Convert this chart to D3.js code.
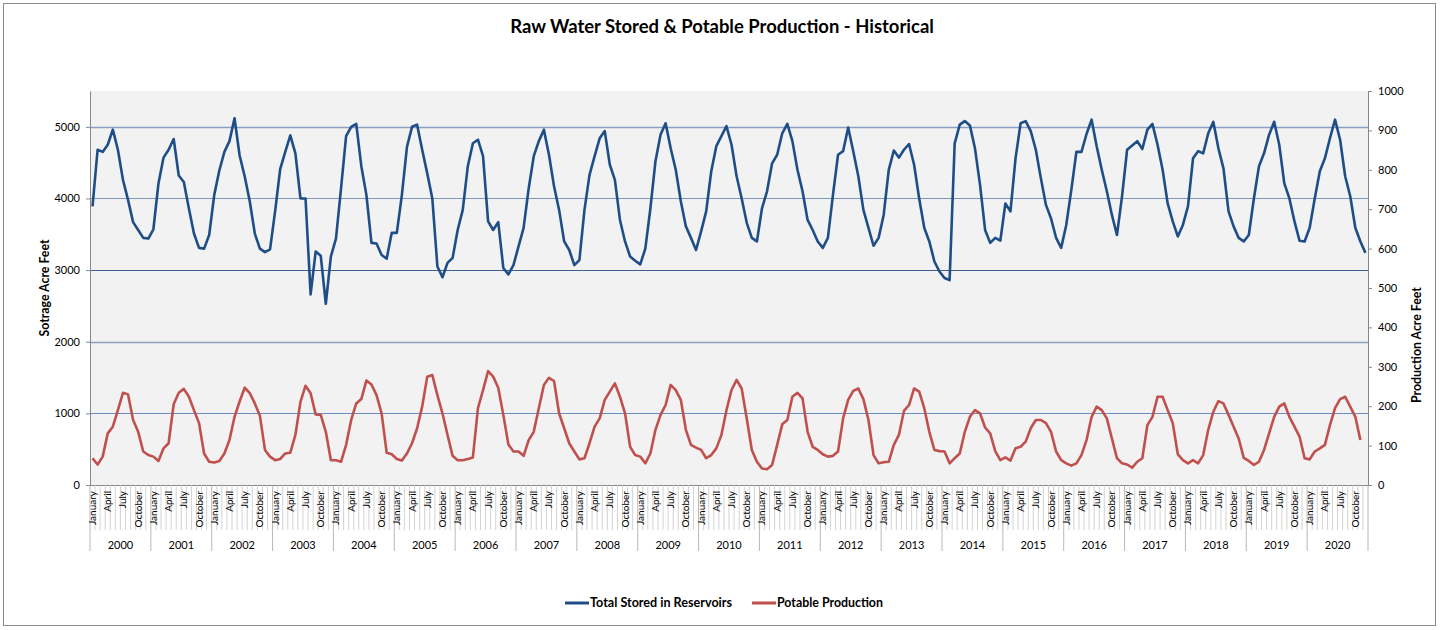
<!DOCTYPE html>
<html><head><meta charset="utf-8">
<script src="https://cdn.jsdelivr.net/npm/d3@7"></script>
<style>
body{margin:0;background:#fff;}
text{font-family:Lato,'Open Sans','Liberation Sans',Arial,sans-serif;fill:#000;}
</style>
</head><body>
<svg id="chart" width="1445" height="630"></svg>
<script>
// ---------------- DATA ----------------
const title = "Raw Water Stored & Potable Production - Historical";
const leftTitle = "Sotrage Acre Feet";
const rightTitle = "Production Acre Feet";
const seriesNames = ["Total Stored in Reservoirs", "Potable Production"];
const years = [2000,2001,2002,2003,2004,2005,2006,2007,2008,2009,2010,2011,2012,2013,2014,2015,2016,2017,2018,2019,2020];
const months = ["January","February","March","April","May","June","July","August","September","October","November","December"];
const shownMonths = ["January","April","July","October"];
const leftTicks = [0,1000,2000,3000,4000,5000];
const rightTicks = [0,100,200,300,400,500,600,700,800,900,1000];

// Total Stored in Reservoirs (acre feet), Jan 2000 .. Dec 2020
const storage = [
 3890,4680,4650,4750,4960,4680,4260,3980,3670,3560,3450,3440,
 3570,4210,4570,4680,4830,4320,4230,3860,3510,3310,3300,3490,
 4050,4390,4650,4800,5120,4600,4310,3960,3510,3300,3250,3290,
 3820,4410,4650,4880,4630,4000,4000,2660,3260,3200,2530,3190,
 3440,4140,4870,5000,5040,4450,4050,3380,3370,3210,3160,3520,
 3520,4050,4720,5000,5030,4680,4350,4000,3050,2900,3100,3170,
 3560,3840,4450,4770,4820,4590,3680,3560,3670,3030,2940,3070,
 3330,3590,4140,4590,4800,4960,4610,4170,3840,3400,3280,3070,
 3140,3840,4330,4590,4840,4940,4470,4260,3700,3400,3190,3130,
 3080,3300,3860,4520,4890,5050,4700,4400,3960,3610,3450,3280,
 3540,3820,4380,4730,4870,5010,4750,4310,4000,3660,3450,3400,
 3860,4100,4490,4610,4910,5040,4800,4400,4100,3700,3560,3400,
 3310,3450,4050,4610,4660,4990,4660,4310,3840,3590,3340,3450,
 3770,4400,4670,4570,4680,4760,4470,4000,3590,3400,3120,2980,
 2890,2860,4770,5030,5080,5020,4700,4190,3560,3380,3450,3410,
 3930,3820,4560,5050,5080,4940,4680,4280,3910,3720,3450,3310,
 3630,4120,4650,4650,4900,5100,4730,4400,4100,3770,3490,4030,
 4680,4740,4800,4690,4960,5040,4750,4400,3930,3680,3470,3630,
 3890,4560,4660,4630,4910,5070,4700,4420,3820,3610,3450,3400,
 3490,4000,4450,4630,4890,5070,4750,4210,4000,3680,3410,3400,
 3590,4000,4380,4560,4840,5100,4820,4310,4030,3590,3400,3240
];

// Potable Production (acre feet), Jan 2000 .. Dec 2020 (Dec 2020 not reported)
const production = [
 68,52,72,131,148,190,234,230,165,135,85,76,
 72,61,93,106,205,234,244,224,190,157,80,59,
 57,61,80,114,173,212,247,233,207,176,89,72,
 63,66,80,82,127,211,252,233,179,178,135,63,
 63,59,102,165,207,218,265,255,228,182,82,78,
 66,62,80,106,144,199,275,279,228,182,127,74,
 63,63,66,70,195,241,289,275,247,178,103,85,
 85,74,114,135,195,254,272,264,182,144,106,85,
 65,68,106,148,169,216,237,258,224,182,97,76,
 72,55,80,140,178,203,254,241,216,140,102,95,
 89,68,76,93,127,190,241,267,245,169,89,59,
 42,40,51,102,154,165,224,234,220,135,97,89,
 78,72,74,85,169,216,239,245,218,165,76,55,
 58,59,102,127,188,203,245,237,195,135,89,86,
 85,55,68,80,135,173,190,182,146,131,86,63,
 70,62,93,97,110,144,165,165,157,135,85,63,
 55,49,55,76,114,173,199,190,169,118,68,55,
 52,44,59,68,152,173,224,224,190,157,78,63,
 55,63,55,76,140,186,213,207,178,148,118,69,
 61,51,59,89,131,173,199,207,173,148,123,68,
 65,85,93,102,152,195,218,224,199,173,114,null
];

// ---------------- CHART ----------------
const svg = d3.select("#chart");
const W = 1445, H = 630;
const plot = {left: 90, right: 1368, top: 91, bottom: 485};

const categories = [];
years.forEach(y => months.forEach(m => categories.push({year: y, month: m})));

const x = d3.scaleBand().domain(d3.range(categories.length)).range([plot.left, plot.right]).padding(0);
const bw = x.bandwidth();
const yL = d3.scaleLinear().domain([0, 5500]).range([plot.bottom, plot.top]);
const yR = d3.scaleLinear().domain([0, 1000]).range([plot.bottom, plot.top]);

function fit(sel, target) {
  const n = sel.node();
  const fs = parseFloat(sel.style("font-size"));
  const w = n.getComputedTextLength();
  if (w > 0) sel.style("font-size", (fs * target / w).toFixed(2) + "px");
  return sel;
}

svg.append("rect").attr("width", W).attr("height", H).attr("fill", "#fff");
svg.append("rect").attr("x", 3.5).attr("y", 3.5).attr("width", 1432).attr("height", 622)
  .attr("fill", "none").attr("stroke", "#8c8c8c").attr("stroke-width", 1);

// plot background
svg.append("rect").attr("x", plot.left).attr("y", plot.top)
  .attr("width", plot.right - plot.left).attr("height", plot.bottom - plot.top)
  .attr("fill", "#f2f2f2");

// gridlines (left axis)
const gridStyle = {1000: ["#6d8cc0", 1], 2000: ["#8fa0bb", 1.6], 3000: ["#3f5e8c", 1.2], 4000: ["#7f97bd", 1], 5000: ["#8aa0c3", 1.3]};
svg.append("g").selectAll("line").data(leftTicks.filter(d => d > 0)).join("line")
  .attr("x1", plot.left).attr("x2", plot.right)
  .attr("y1", d => Math.round(yL(d)) + 0.5).attr("y2", d => Math.round(yL(d)) + 0.5)
  .attr("stroke", d => gridStyle[d][0]).attr("stroke-width", d => gridStyle[d][1]);

// left axis
const gL = svg.append("g").attr("transform", `translate(${plot.left},0)`)
  .call(d3.axisLeft(yL).tickValues(leftTicks).tickFormat(d3.format("d")).tickSize(4).tickPadding(6).tickSizeOuter(0));
gL.select(".domain").attr("stroke", "#868686");
gL.selectAll(".tick line").attr("stroke", "#868686");
gL.selectAll(".tick text").style("font-family", "Lato,'Open Sans',sans-serif").style("font-size", "11px").attr("fill", "#222");

// right axis
const gR = svg.append("g").attr("transform", `translate(${plot.right},0)`)
  .call(d3.axisRight(yR).tickValues(rightTicks).tickFormat(d3.format("d")).tickSize(4).tickPadding(6).tickSizeOuter(0));
gR.select(".domain").attr("stroke", "#868686");
gR.selectAll(".tick line").attr("stroke", "#868686");
gR.selectAll(".tick text").style("font-family", "Lato,'Open Sans',sans-serif").style("font-size", "11px").attr("fill", "#222");

// bottom axis: category divisions, month labels, year labels
const gB = svg.append("g");
gB.append("line").attr("x1", plot.left).attr("x2", plot.right)
  .attr("y1", plot.bottom + 0.5).attr("y2", plot.bottom + 0.5).attr("stroke", "#868686");
const bounds = d3.range(categories.length + 1);
gB.selectAll("line.cat").data(bounds).join("line").attr("class", "cat")
  .attr("x1", i => (i < categories.length ? x(i) : plot.right))
  .attr("x2", i => (i < categories.length ? x(i) : plot.right))
  .attr("y1", plot.bottom).attr("y2", i => (i % 12 === 0 ? 551 : 530))
  .attr("stroke", i => (i % 12 === 0 ? "#a6a6a6" : "#c8c8c8")).attr("stroke-width", 0.8);

const monthFont = 10;
gB.selectAll("text.m").data(categories.map((c, i) => ({c, i})).filter(d => shownMonths.includes(d.c.month)))
  .join("text").attr("class", "m")
  .attr("transform", d => `translate(${x(d.i) + bw / 2 + 3.5},491) rotate(-90)`)
  .attr("text-anchor", "end")
  .style("font-size", monthFont + "px").attr("fill", "#222")
  .text(d => d.c.month);

gB.selectAll("text.y").data(years).join("text").attr("class", "y")
  .attr("x", (d, k) => (x(k * 12) + (k * 12 + 12 < categories.length ? x(k * 12 + 12) : plot.right)) / 2)
  .attr("y", 549).attr("text-anchor", "middle")
  .style("font-size", "11px").attr("fill", "#222")
  .text(d => d);

// lines
const lineL = d3.line().defined(d => d != null).x((d, i) => x(i) + bw / 2).y(d => yL(d));
const lineR = d3.line().defined(d => d != null).x((d, i) => x(i) + bw / 2).y(d => yR(d));
svg.append("path").datum(storage).attr("d", lineL).attr("fill", "none")
  .attr("stroke", "#1f4e87").attr("stroke-width", 2.6).attr("stroke-linejoin", "round");
svg.append("path").datum(production).attr("d", lineR).attr("fill", "none")
  .attr("stroke", "#c0504d").attr("stroke-width", 2.6).attr("stroke-linejoin", "round");

// titles
const t = svg.append("text").attr("x", 722).attr("y", 33).attr("text-anchor", "middle")
  .style("font-size", "17px").style("font-weight", "bold").text(title);
fit(t, 424);

const lt = svg.append("text").attr("transform", "translate(49,288) rotate(-90)").attr("text-anchor", "middle")
  .style("font-size", "11px").style("font-weight", "bold").text(leftTitle);
fit(lt, 97);
const rt = svg.append("text").attr("transform", "translate(1421,345) rotate(-90)").attr("text-anchor", "middle")
  .style("font-size", "11px").style("font-weight", "bold").text(rightTitle);
fit(rt, 116);

// legend
const legend = [
  {name: seriesNames[0], color: "#1f4e87", x: 565, tw: 142},
  {name: seriesNames[1], color: "#c0504d", x: 752, tw: 106}
];
legend.forEach(l => {
  svg.append("line").attr("x1", l.x).attr("x2", l.x + 24).attr("y1", 603).attr("y2", 603)
    .attr("stroke", l.color).attr("stroke-width", 3);
  const tx = svg.append("text").attr("x", l.x + 25).attr("y", 607)
    .style("font-size", "11px").style("font-weight", "bold").text(l.name);
  fit(tx, l.tw);
});
</script>
</body></html>
